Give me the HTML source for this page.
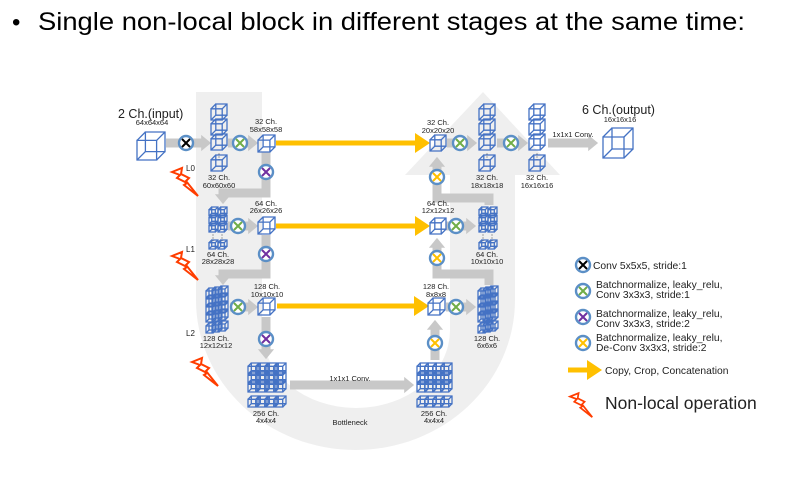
<!DOCTYPE html>
<html><head><meta charset="utf-8"><style>
body{margin:0;background:#fff;}
svg{display:block;font-family:"Liberation Sans",sans-serif;}
.t{font-size:7.5px;fill:#222;text-anchor:middle}
</style></head><body>
<svg width="809" height="488" viewBox="0 0 809 488" xmlns="http://www.w3.org/2000/svg">
<defs>
<symbol id="cube" viewBox="0 0 10 10" overflow="visible">
<g fill="none" stroke="#4472c4" stroke-width="1.3">
<rect x="3" y="0" width="7" height="7" vector-effect="non-scaling-stroke"/>
<path d="M0,3L3,0M7,3L10,0M7,10L10,7M0,10L3,7" vector-effect="non-scaling-stroke"/>
<rect x="0" y="3" width="7" height="7" vector-effect="non-scaling-stroke"/>
</g></symbol>
<symbol id="bolt" viewBox="0 0 28 30" overflow="visible">
<path d="M0,4 L10,0 L9,6 L17,10 L14,13 L26,28 L12,17 L15,15 L5,10 L8,7 Z" fill="#fff" stroke="#ff3d00" stroke-width="2"/>
</symbol>
<marker id="ya" markerWidth="4" markerHeight="4" refX="1" refY="2" orient="auto" markerUnits="strokeWidth"><path d="M0,0L3,2L0,4Z" fill="#ffc000"/></marker>
<marker id="ga" markerWidth="2" markerHeight="2" refX="0.2" refY="0.9" orient="auto" markerUnits="strokeWidth"><path d="M0,0L1.1,0.9L0,1.8Z" fill="#c8c8c8"/></marker>
</defs>

<text x="12" y="30" font-size="24" fill="#000">•</text>
<text x="38" y="30" font-size="25" fill="#000" textLength="707" lengthAdjust="spacingAndGlyphs">Single non-local block in different stages at the same time:</text>

<!-- U background -->
<path d="M196,92 L262,92 L262,330 A94,78 0 0 0 450,330 L450,175 L405,175 L483,92 L560,175 L515,175 L515,300 A159.5,150 0 0 1 196,300 Z" fill="#efefef"/>

<!-- gray connectors -->
<g stroke="#c8c8c8" stroke-width="9" fill="none">
<line x1="166" y1="143" x2="203" y2="143" marker-end="url(#ga)"/>
<line x1="228" y1="143" x2="250" y2="143" marker-end="url(#ga)"/>
<polyline points="266,152 266,193 223,193 223,196" marker-end="url(#ga)"/>
<line x1="228" y1="226" x2="250" y2="226" marker-end="url(#ga)"/>
<polyline points="266,235 266,274 223,274 223,277" marker-end="url(#ga)"/>
<line x1="230" y1="307" x2="250" y2="307" marker-end="url(#ga)"/>
<line x1="266" y1="317" x2="266" y2="351" marker-end="url(#ga)"/>
<line x1="290" y1="385" x2="406" y2="385" marker-end="url(#ga)"/>
<line x1="435" y1="360" x2="435" y2="328" marker-end="url(#ga)"/>
<line x1="446" y1="307" x2="468" y2="307" marker-end="url(#ga)"/>
<polyline points="489,285 489,274 437,274 437,246" marker-end="url(#ga)"/>
<line x1="446" y1="226" x2="468" y2="226" marker-end="url(#ga)"/>
<polyline points="489,205 489,198 437,198 437,165" marker-end="url(#ga)"/>
<line x1="447" y1="143" x2="469" y2="143" marker-end="url(#ga)"/>
<line x1="497" y1="143" x2="520" y2="143" marker-end="url(#ga)"/>
<line x1="548" y1="143" x2="590" y2="143" marker-end="url(#ga)"/>
</g>

<!-- yellow copy arrows -->
<g stroke="#ffc000" stroke-width="5" fill="none">
<line x1="276" y1="143" x2="420" y2="143" marker-end="url(#ya)"/>
<line x1="276" y1="226" x2="420" y2="226" marker-end="url(#ya)"/>
<line x1="277" y1="306" x2="419" y2="306" marker-end="url(#ya)"/>
<line x1="568" y1="370" x2="592" y2="370" marker-end="url(#ya)"/>
</g>

<!-- input/output -->
<use href="#cube" x="137" y="132" width="28" height="28"/>
<text x="118" y="118" font-size="12.5" fill="#222">2 Ch.(input)</text>
<text x="152" y="125" class="t">64x64x64</text>
<use href="#cube" x="603" y="128" width="30" height="30"/>
<text x="582" y="114" font-size="12.5" fill="#222">6 Ch.(output)</text>
<text x="620" y="122" class="t">16x16x16</text>
<text x="573" y="137" class="t" font-size="6.5">1x1x1 Conv.</text>

<!-- row0 left -->
<use href="#cube" x="211" y="104" width="16" height="16"/>
<use href="#cube" x="211" y="119" width="16" height="16"/>
<use href="#cube" x="211" y="134" width="16" height="16"/>
<text x="219" y="159" class="t" font-size="6">⋮</text>
<use href="#cube" x="211" y="155" width="16" height="16"/>
<text x="219" y="180" class="t">32 Ch.</text><text x="219" y="188" class="t">60x60x60</text>
<use href="#cube" x="258" y="135" width="17" height="17"/>
<text x="266" y="124" class="t">32 Ch.</text><text x="266" y="132" class="t">58x58x58</text>
<text x="186" y="171" font-size="8" fill="#222">L0</text>
<use href="#bolt" x="172" y="168" width="28" height="30"/>

<!-- row1 left -->
<use href="#cube" x="209" y="207" width="9" height="9"/><use href="#cube" x="218" y="207" width="9" height="9"/>
<use href="#cube" x="209" y="215" width="9" height="9"/><use href="#cube" x="218" y="215" width="9" height="9"/>
<use href="#cube" x="209" y="223" width="9" height="9"/><use href="#cube" x="218" y="223" width="9" height="9"/>
<text x="213" y="240" class="t" font-size="6">⋮</text><text x="222" y="240" class="t" font-size="6">⋮</text>
<use href="#cube" x="209" y="240" width="9" height="9"/><use href="#cube" x="218" y="240" width="9" height="9"/>
<text x="218" y="257" class="t">64 Ch.</text><text x="218" y="264" class="t">28x28x28</text>
<use href="#cube" x="258" y="217" width="17" height="17"/>
<text x="266" y="206" class="t">64 Ch.</text><text x="266" y="213" class="t">26x26x26</text>
<text x="186" y="252" font-size="8" fill="#222">L1</text>
<use href="#bolt" x="172" y="252" width="28" height="30"/>

<!-- row2 left -->
<g>
<use href="#cube" x="206" y="288" width="10" height="10"/><use href="#cube" x="212" y="287" width="10" height="10"/><use href="#cube" x="218" y="286" width="10" height="10"/>
<use href="#cube" x="206" y="296" width="10" height="10"/><use href="#cube" x="212" y="295" width="10" height="10"/><use href="#cube" x="218" y="294" width="10" height="10"/>
<use href="#cube" x="206" y="304" width="10" height="10"/><use href="#cube" x="212" y="303" width="10" height="10"/><use href="#cube" x="218" y="302" width="10" height="10"/>
<use href="#cube" x="206" y="312" width="10" height="10"/><use href="#cube" x="212" y="311" width="10" height="10"/><use href="#cube" x="218" y="310" width="10" height="10"/>
<use href="#cube" x="206" y="323" width="10" height="10"/><use href="#cube" x="212" y="322" width="10" height="10"/><use href="#cube" x="218" y="321" width="10" height="10"/>
</g>
<text x="216" y="341" class="t">128 Ch.</text><text x="216" y="348" class="t">12x12x12</text>
<use href="#cube" x="258" y="298" width="17" height="17"/>
<text x="267" y="289" class="t">128 Ch.</text><text x="267" y="297" class="t">10x10x10</text>
<text x="186" y="336" font-size="8" fill="#222">L2</text>
<use href="#bolt" x="192" y="358" width="28" height="30"/>

<!-- bottom stacks -->
<g>
<use href="#cube" x="248" y="363" width="11" height="11"/><use href="#cube" x="257" y="363" width="11" height="11"/><use href="#cube" x="266" y="363" width="11" height="11"/><use href="#cube" x="275" y="363" width="11" height="11"/>
<use href="#cube" x="248" y="372" width="11" height="11"/><use href="#cube" x="257" y="372" width="11" height="11"/><use href="#cube" x="266" y="372" width="11" height="11"/><use href="#cube" x="275" y="372" width="11" height="11"/>
<use href="#cube" x="248" y="381" width="11" height="11"/><use href="#cube" x="257" y="381" width="11" height="11"/><use href="#cube" x="266" y="381" width="11" height="11"/><use href="#cube" x="275" y="381" width="11" height="11"/>
<use href="#cube" x="248" y="396" width="11" height="11"/><use href="#cube" x="257" y="396" width="11" height="11"/><use href="#cube" x="266" y="396" width="11" height="11"/><use href="#cube" x="275" y="396" width="11" height="11"/>
<use href="#cube" x="417" y="363" width="11" height="11"/><use href="#cube" x="425" y="363" width="11" height="11"/><use href="#cube" x="433" y="363" width="11" height="11"/><use href="#cube" x="441" y="363" width="11" height="11"/>
<use href="#cube" x="417" y="372" width="11" height="11"/><use href="#cube" x="425" y="372" width="11" height="11"/><use href="#cube" x="433" y="372" width="11" height="11"/><use href="#cube" x="441" y="372" width="11" height="11"/>
<use href="#cube" x="417" y="381" width="11" height="11"/><use href="#cube" x="425" y="381" width="11" height="11"/><use href="#cube" x="433" y="381" width="11" height="11"/><use href="#cube" x="441" y="381" width="11" height="11"/>
<use href="#cube" x="417" y="396" width="11" height="11"/><use href="#cube" x="425" y="396" width="11" height="11"/><use href="#cube" x="433" y="396" width="11" height="11"/><use href="#cube" x="441" y="396" width="11" height="11"/>
</g>
<text x="266" y="416" class="t">256 Ch.</text><text x="266" y="423" class="t">4x4x4</text>
<text x="434" y="416" class="t">256 Ch.</text><text x="434" y="423" class="t">4x4x4</text>
<text x="350" y="381" class="t" font-size="6.5">1x1x1 Conv.</text>
<text x="350" y="425" class="t" font-size="8">Bottleneck</text>

<!-- right side row0 -->
<use href="#cube" x="430" y="135" width="16" height="16"/>
<text x="438" y="125" class="t">32 Ch.</text><text x="438" y="133" class="t">20x20x20</text>
<use href="#cube" x="479" y="104" width="16" height="16"/><use href="#cube" x="479" y="119" width="16" height="16"/><use href="#cube" x="479" y="134" width="16" height="16"/>
<text x="487" y="159" class="t" font-size="6">⋮</text>
<use href="#cube" x="479" y="155" width="16" height="16"/>
<text x="487" y="180" class="t">32 Ch.</text><text x="487" y="188" class="t">18x18x18</text>
<use href="#cube" x="529" y="104" width="16" height="16"/><use href="#cube" x="529" y="119" width="16" height="16"/><use href="#cube" x="529" y="134" width="16" height="16"/>
<text x="537" y="159" class="t" font-size="6">⋮</text>
<use href="#cube" x="529" y="155" width="16" height="16"/>
<text x="537" y="180" class="t">32 Ch.</text><text x="537" y="188" class="t">16x16x16</text>

<!-- right row1 -->
<use href="#cube" x="430" y="218" width="16" height="16"/>
<text x="438" y="206" class="t">64 Ch.</text><text x="438" y="213" class="t">12x12x12</text>
<use href="#cube" x="479" y="207" width="9" height="9"/><use href="#cube" x="488" y="207" width="9" height="9"/>
<use href="#cube" x="479" y="215" width="9" height="9"/><use href="#cube" x="488" y="215" width="9" height="9"/>
<use href="#cube" x="479" y="223" width="9" height="9"/><use href="#cube" x="488" y="223" width="9" height="9"/>
<text x="483" y="240" class="t" font-size="6">⋮</text><text x="492" y="240" class="t" font-size="6">⋮</text>
<use href="#cube" x="479" y="240" width="9" height="9"/><use href="#cube" x="488" y="240" width="9" height="9"/>
<text x="487" y="257" class="t">64 Ch.</text><text x="487" y="264" class="t">10x10x10</text>

<!-- right row2 -->
<use href="#cube" x="428" y="298" width="17" height="17"/>
<text x="436" y="289" class="t">128 Ch.</text><text x="436" y="297" class="t">8x8x8</text>
<g>
<use href="#cube" x="478" y="288" width="10" height="10"/><use href="#cube" x="483" y="287" width="10" height="10"/><use href="#cube" x="488" y="286" width="10" height="10"/>
<use href="#cube" x="478" y="296" width="10" height="10"/><use href="#cube" x="483" y="295" width="10" height="10"/><use href="#cube" x="488" y="294" width="10" height="10"/>
<use href="#cube" x="478" y="304" width="10" height="10"/><use href="#cube" x="483" y="303" width="10" height="10"/><use href="#cube" x="488" y="302" width="10" height="10"/>
<use href="#cube" x="478" y="312" width="10" height="10"/><use href="#cube" x="483" y="311" width="10" height="10"/><use href="#cube" x="488" y="310" width="10" height="10"/>
<use href="#cube" x="478" y="323" width="10" height="10"/><use href="#cube" x="483" y="322" width="10" height="10"/><use href="#cube" x="488" y="321" width="10" height="10"/>
</g>
<text x="487" y="341" class="t">128 Ch.</text><text x="487" y="348" class="t">6x6x6</text>

<!-- op circles -->
<g stroke-width="2.4" fill="#fff">
<g stroke="#5b8fc6"><circle cx="186" cy="143" r="7"/><circle cx="240" cy="143" r="7"/><circle cx="266" cy="172" r="7"/><circle cx="238" cy="226" r="7"/><circle cx="266" cy="254" r="7"/><circle cx="238" cy="307" r="7"/><circle cx="266" cy="339" r="7"/>
<circle cx="435" cy="343" r="7"/><circle cx="456" cy="307" r="7"/><circle cx="437" cy="258" r="7"/><circle cx="456" cy="226" r="7"/><circle cx="437" cy="177" r="7"/><circle cx="460" cy="143" r="7"/><circle cx="511" cy="143" r="7"/>
<circle cx="583" cy="265" r="7"/><circle cx="583" cy="291" r="7"/><circle cx="583" cy="317" r="7"/><circle cx="583" cy="343" r="7"/></g>
</g>
<g stroke-width="2" fill="none">
<path stroke="#000" d="M182,139l8,8m0,-8l-8,8M579,261l8,8m0,-8l-8,8"/>
<path stroke="#70ad47" d="M236,139l8,8m0,-8l-8,8M234,222l8,8m0,-8l-8,8M234,303l8,8m0,-8l-8,8M452,303l8,8m0,-8l-8,8M452,222l8,8m0,-8l-8,8M456,139l8,8m0,-8l-8,8M507,139l8,8m0,-8l-8,8M579,287l8,8m0,-8l-8,8"/>
<path stroke="#7030a0" d="M262,168l8,8m0,-8l-8,8M262,250l8,8m0,-8l-8,8M262,335l8,8m0,-8l-8,8M579,313l8,8m0,-8l-8,8"/>
<path stroke="#ffc000" d="M431,339l8,8m0,-8l-8,8M433,254l8,8m0,-8l-8,8M433,173l8,8m0,-8l-8,8M579,339l8,8m0,-8l-8,8"/>
</g>

<!-- legend -->
<g font-size="10.3" fill="#222">
<text x="593" y="269">Conv 5x5x5, stride:1</text>
<text x="596" y="288">Batchnormalize, leaky_relu,</text><text x="596" y="298">Conv 3x3x3, stride:1</text>
<text x="596" y="317">Batchnormalize, leaky_relu,</text><text x="596" y="327">Conv 3x3x3, stride:2</text>
<text x="596" y="341">Batchnormalize, leaky_relu,</text><text x="596" y="351">De-Conv 3x3x3, stride:2</text>
<text x="605" y="374">Copy, Crop, Concatenation</text>
<text x="605" y="409" font-size="17.5">Non-local operation</text>
</g>
<use href="#bolt" x="570" y="392" width="24" height="28"/>
</svg>
</body></html>
